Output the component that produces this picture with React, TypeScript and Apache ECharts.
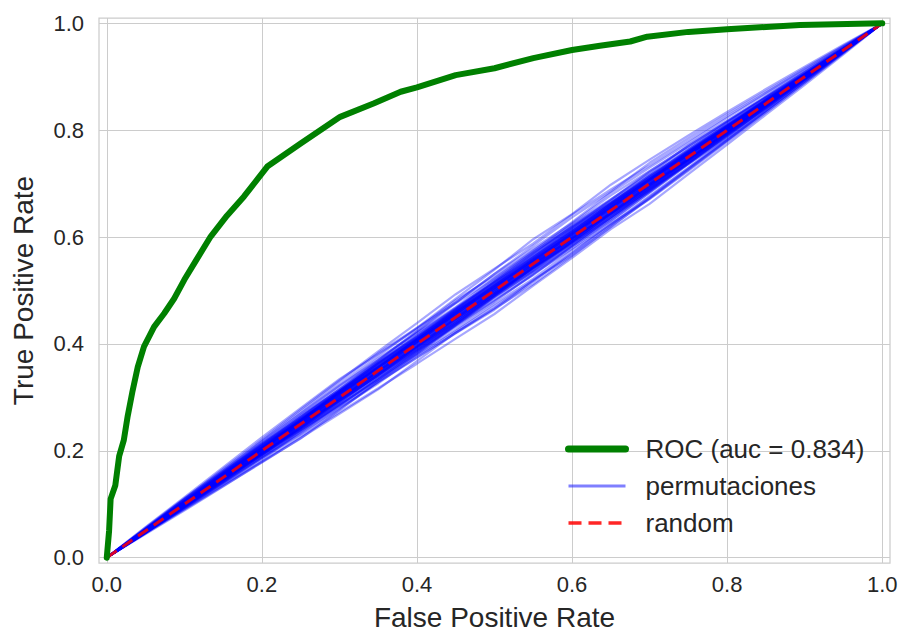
import React, { useEffect, useRef } from "react";
import * as echarts from "echarts";

const FONT = "'Liberation Sans', Arial, sans-serif";
const TEXT = "#262626";

const tickValues = [0, 0.2, 0.4, 0.6, 0.8, 1.0];

const rocFpr = [0, 0.003, 0.005, 0.011, 0.016, 0.022, 0.027, 0.033, 0.04, 0.048, 0.061, 0.074, 0.087, 0.1, 0.115, 0.134, 0.155, 0.177, 0.207, 0.25, 0.301, 0.344, 0.379, 0.4, 0.45, 0.5, 0.55, 0.6, 0.636, 0.675, 0.697, 0.75, 0.8, 0.894, 1.0];
const rocTpr = [0, 0.05, 0.11, 0.135, 0.19, 0.22, 0.265, 0.31, 0.357, 0.395, 0.432, 0.457, 0.485, 0.52, 0.556, 0.601, 0.64, 0.676, 0.732, 0.775, 0.825, 0.85, 0.872, 0.88, 0.903, 0.916, 0.935, 0.95, 0.958, 0.966, 0.975, 0.984, 0.989, 0.997, 1.0];

const permX = [0, 0.05, 0.1, 0.15, 0.2, 0.25, 0.3, 0.35, 0.4, 0.45, 0.5, 0.55, 0.6, 0.65, 0.7, 0.75, 0.8, 0.85, 0.9, 0.95, 1.0];
// deviation from the diagonal, in hundredths of TPR
const permDeviations = [
  [0, 0.3, 0.8, 1.2, 1.5, 1.9, 2.2, 2.0, 2.4, 2.8, 3.1, 2.9, 2.6, 2.8, 2.4, 2.0, 1.7, 1.3, 0.9, 0.5, 0],
  [0, -0.4, -0.7, -1.1, -1.3, -1.8, -2.0, -2.4, -2.2, -2.6, -2.9, -3.2, -3.0, -2.7, -2.5, -2.1, -1.8, -1.4, -0.9, -0.4, 0],
  [0, 0.2, 0.1, 0.5, 0.9, 0.7, 1.1, 1.4, 1.2, 0.9, 1.3, 1.6, 1.9, 1.5, 1.2, 1.4, 1.0, 0.7, 0.5, 0.2, 0],
  [0, -0.2, -0.5, -0.3, -0.6, -1.0, -0.8, -1.2, -1.5, -1.3, -1.0, -0.7, -1.1, -1.4, -1.2, -0.9, -1.1, -0.8, -0.5, -0.3, 0],
  [0, 0.5, 1.0, 1.6, 2.1, 2.7, 3.2, 3.6, 3.9, 4.3, 4.1, 3.8, 4.2, 3.9, 3.4, 3.0, 2.6, 2.0, 1.4, 0.7, 0],
  [0, -0.3, -0.9, -1.4, -2.0, -2.3, -2.8, -3.3, -3.7, -4.0, -4.4, -4.1, -3.9, -3.5, -3.8, -3.2, -2.7, -2.1, -1.5, -0.8, 0],
  [0, 0.1, 0.4, 0.2, 0.0, 0.3, 0.6, 0.4, 0.1, -0.2, 0.1, 0.4, 0.7, 0.5, 0.2, 0.5, 0.3, 0.1, 0.3, 0.1, 0],
  [0, -0.1, 0.2, 0.5, 0.3, 0.0, -0.3, -0.1, 0.3, 0.6, 0.4, 0.1, -0.2, -0.5, -0.3, 0.0, 0.2, 0.0, -0.2, -0.1, 0],
  [0, 0.4, 0.7, 0.9, 1.3, 1.6, 1.4, 1.8, 2.1, 1.9, 2.3, 2.5, 2.2, 1.9, 2.1, 1.7, 1.4, 1.1, 0.6, 0.3, 0],
  [0, -0.2, -0.6, -0.9, -0.7, -1.1, -1.5, -1.7, -1.4, -1.8, -2.1, -1.9, -2.2, -2.0, -1.7, -1.3, -1.5, -1.0, -0.6, -0.3, 0],
  [0, 0.6, 1.1, 1.4, 1.9, 2.4, 2.9, 3.3, 3.0, 3.5, 3.9, 4.6, 4.3, 4.8, 4.5, 4.0, 3.4, 2.7, 1.9, 1.0, 0],
  [0, -0.5, -1.0, -1.6, -2.2, -2.6, -3.1, -3.5, -3.2, -2.9, -3.4, -3.8, -3.5, -3.1, -2.8, -2.4, -2.0, -1.6, -1.1, -0.5, 0],
  [0, 0.2, 0.3, 0.7, 0.5, 0.8, 1.0, 0.8, 1.1, 1.4, 1.2, 0.9, 1.0, 1.3, 1.0, 0.7, 0.8, 0.5, 0.3, 0.1, 0],
  [0, -0.3, -0.2, -0.4, -0.8, -0.6, -0.3, -0.5, -0.9, -0.7, -0.4, -0.6, -0.3, -0.7, -0.9, -0.6, -0.4, -0.5, -0.3, -0.1, 0],
  [0, 0.3, 0.6, 1.0, 1.4, 1.1, 1.5, 1.9, 2.3, 2.6, 2.2, 2.0, 2.4, 2.1, 1.8, 2.2, 1.8, 1.3, 0.9, 0.4, 0],
  [0, -0.1, -0.4, -0.8, -1.2, -1.5, -1.3, -1.7, -2.0, -2.3, -2.5, -2.8, -2.4, -2.6, -2.3, -2.0, -1.6, -1.3, -0.8, -0.4, 0],
  [0, 0.1, 0.5, 0.8, 1.1, 0.9, 0.6, 0.9, 0.7, 1.0, 0.7, 0.4, 0.6, 0.9, 1.2, 0.8, 0.6, 0.7, 0.4, 0.2, 0],
  [0, -0.4, -0.3, -0.1, -0.4, -0.7, -1.0, -0.8, -0.5, -0.2, -0.5, -0.8, -1.2, -1.0, -0.7, -0.4, -0.6, -0.3, -0.1, 0.0, 0],
  [0, 0.7, 1.3, 1.9, 2.5, 3.0, 3.4, 3.1, 2.8, 3.2, 2.7, 2.4, 2.8, 3.3, 3.0, 2.6, 2.3, 1.8, 1.2, 0.6, 0],
  [0, -0.6, -1.2, -1.7, -2.1, -2.7, -2.4, -2.1, -2.5, -3.0, -3.6, -3.3, -2.9, -2.5, -2.9, -2.6, -2.2, -1.7, -1.2, -0.6, 0],
  [0, 0.2, 0.0, 0.3, 0.6, 0.4, 0.2, 0.5, 0.8, 0.5, 0.2, -0.1, 0.2, 0.4, 0.7, 0.4, 0.2, 0.4, 0.2, 0.0, 0],
  [0, -0.2, 0.1, -0.1, -0.3, -0.1, 0.2, 0.0, -0.4, -0.2, 0.1, -0.2, -0.5, -0.2, 0.0, -0.3, -0.1, -0.3, -0.1, -0.1, 0],
  [0, 0.4, 0.9, 1.3, 1.7, 2.0, 2.4, 2.7, 3.0, 2.7, 3.1, 3.4, 3.7, 3.5, 3.9, 3.5, 3.0, 2.3, 1.6, 0.8, 0],
  [0, -0.3, -0.7, -1.0, -1.4, -1.9, -2.3, -2.0, -1.7, -1.4, -1.7, -2.0, -1.6, -1.3, -1.0, -1.3, -1.0, -0.7, -0.4, -0.2, 0],
  [0, 0.1, 0.3, 0.6, 0.4, 0.7, 0.9, 1.2, 1.6, 1.4, 1.7, 1.5, 1.2, 0.9, 0.6, 0.9, 0.7, 0.4, 0.2, 0.1, 0],
  [0, -0.2, -0.4, -0.2, 0.1, -0.2, -0.5, -0.9, -1.1, -0.8, -0.6, -0.9, -1.3, -1.6, -1.4, -1.1, -0.8, -0.9, -0.6, -0.3, 0],
  [0, 0.5, 0.9, 1.1, 1.0, 1.4, 1.9, 2.3, 2.0, 1.6, 1.9, 2.2, 1.8, 1.4, 1.6, 1.3, 1.5, 1.1, 0.7, 0.3, 0],
  [0, -0.4, -0.8, -1.3, -1.7, -1.4, -1.8, -2.2, -2.6, -2.9, -3.3, -3.0, -3.4, -3.1, -2.7, -2.3, -1.9, -1.4, -0.9, -0.5, 0],
  [0, 0.3, 0.2, 0.0, 0.3, 0.6, 1.0, 1.3, 1.1, 1.4, 1.7, 2.0, 1.7, 2.0, 2.3, 2.0, 1.6, 1.2, 0.8, 0.4, 0],
  [0, -0.1, -0.3, -0.6, -0.4, -0.7, -0.5, -0.2, -0.6, -1.0, -0.8, -1.2, -0.9, -0.6, -0.4, -0.7, -0.5, -0.2, -0.3, -0.1, 0],
  [0, 0.1, 0.3, 0.4, 0.2, 0.5, 0.7, 0.5, 0.8, 0.6, 0.9, 0.7, 0.4, 0.6, 0.8, 0.5, 0.3, 0.4, 0.2, 0.1, 0],
  [0, -0.1, -0.2, 0.0, -0.3, -0.5, -0.3, -0.6, -0.4, -0.7, -0.5, -0.3, -0.6, -0.4, -0.2, -0.4, -0.3, -0.1, -0.2, 0.0, 0],
  [0, 0.2, 0.5, 0.7, 0.9, 0.6, 0.9, 1.1, 0.8, 1.0, 0.6, 0.8, 1.1, 0.9, 0.6, 0.9, 0.6, 0.5, 0.3, 0.1, 0],
  [0, -0.3, -0.5, -0.7, -0.5, -0.8, -1.0, -0.7, -0.9, -1.1, -0.8, -1.0, -0.7, -0.9, -1.1, -0.8, -0.6, -0.4, -0.3, -0.1, 0],
  [0, 0.0, 0.2, 0.1, 0.4, 0.2, 0.0, 0.2, 0.5, 0.3, 0.6, 0.3, 0.1, 0.3, 0.0, 0.2, 0.4, 0.2, 0.1, 0.1, 0],
  [0, -0.2, -0.1, -0.3, -0.1, 0.1, -0.1, -0.3, -0.1, 0.1, -0.2, 0.0, -0.3, -0.1, -0.3, -0.1, -0.2, 0.0, -0.1, 0.0, 0],
  [0, 0.3, 0.6, 0.9, 1.2, 1.4, 1.2, 1.5, 1.3, 1.6, 1.4, 1.1, 1.4, 1.2, 1.5, 1.1, 0.9, 0.8, 0.5, 0.2, 0],
  [0, -0.2, -0.5, -0.8, -1.1, -1.3, -1.6, -1.4, -1.2, -1.5, -1.3, -1.5, -1.8, -1.6, -1.3, -1.1, -0.9, -0.7, -0.4, -0.2, 0],
  [0, 0.1, 0.2, 0.5, 0.7, 1.0, 0.8, 0.6, 0.3, 0.5, 0.8, 1.0, 0.8, 0.5, 0.3, 0.6, 0.4, 0.2, 0.3, 0.1, 0],
  [0, -0.1, -0.3, -0.2, -0.5, -0.3, -0.6, -0.9, -0.7, -0.4, -0.2, -0.5, -0.8, -0.6, -0.5, -0.2, -0.4, -0.2, -0.1, 0.0, 0],
  [0, 0.2, 0.4, 0.3, 0.6, 0.8, 1.1, 1.3, 1.0, 1.2, 0.9, 1.2, 1.4, 1.1, 0.9, 1.1, 0.8, 0.6, 0.4, 0.2, 0],
  [0, -0.3, -0.2, -0.5, -0.7, -0.9, -0.6, -0.8, -1.1, -1.3, -1.1, -0.8, -0.9, -1.2, -1.0, -0.7, -0.8, -0.5, -0.3, -0.1, 0],
  [0, 0.1, 0.2, 0.4, 0.3, 0.5, 0.3, 0.6, 0.4, 0.2, 0.4, 0.6, 0.3, 0.5, 0.2, 0.4, 0.2, 0.3, 0.1, 0.0, 0],
  [0, -0.1, -0.3, -0.1, -0.4, -0.2, -0.5, -0.3, -0.6, -0.4, -0.7, -0.4, -0.2, -0.5, -0.3, -0.5, -0.2, -0.3, -0.1, -0.1, 0],
  [0, 0.2, 0.4, 0.6, 0.8, 1.0, 1.2, 1.0, 0.7, 0.9, 1.1, 1.3, 1.0, 1.2, 0.9, 0.7, 0.9, 0.6, 0.4, 0.2, 0],
  [0, -0.2, -0.4, -0.6, -0.8, -0.6, -0.9, -1.1, -1.3, -1.0, -1.2, -1.4, -1.1, -0.9, -1.2, -1.0, -0.7, -0.5, -0.4, -0.2, 0],
  [0, 0.0, 0.1, -0.1, 0.1, 0.3, 0.1, -0.1, 0.2, 0.0, -0.2, 0.1, 0.3, 0.1, -0.1, 0.1, 0.0, -0.1, 0.1, 0.0, 0],
  [0, 0.1, 0.3, 0.5, 0.4, 0.2, 0.4, 0.7, 0.9, 0.7, 0.5, 0.3, 0.5, 0.8, 0.6, 0.4, 0.6, 0.4, 0.2, 0.1, 0],
  [0, -0.2, -0.3, -0.5, -0.7, -0.5, -0.3, -0.1, -0.3, -0.6, -0.9, -0.7, -0.5, -0.3, -0.6, -0.4, -0.2, -0.4, -0.2, -0.1, 0],
  [0, 0.3, 0.5, 0.8, 1.0, 1.3, 1.5, 1.7, 1.4, 1.2, 1.5, 1.3, 1.6, 1.4, 1.2, 1.0, 1.2, 0.8, 0.5, 0.2, 0],
  [0, -0.3, -0.6, -0.9, -1.2, -1.0, -1.3, -1.5, -1.7, -1.5, -1.2, -1.4, -1.6, -1.3, -1.5, -1.2, -1.0, -0.8, -0.5, -0.2, 0],
  [0, 0.1, 0.0, 0.2, 0.4, 0.6, 0.4, 0.2, 0.4, 0.7, 0.5, 0.8, 0.6, 0.3, 0.5, 0.3, 0.5, 0.3, 0.2, 0.1, 0],
  [0, -0.1, 0.1, 0.3, 0.1, -0.1, -0.3, -0.5, -0.3, -0.1, 0.1, -0.1, -0.3, -0.5, -0.7, -0.5, -0.3, -0.2, -0.2, -0.1, 0],
  [0, 0.2, 0.3, 0.2, 0.5, 0.7, 0.9, 0.7, 1.0, 1.2, 0.9, 0.6, 0.8, 1.0, 0.8, 1.0, 0.7, 0.5, 0.3, 0.1, 0],
  [0, -0.2, -0.1, -0.4, -0.6, -0.4, -0.7, -0.9, -0.7, -1.0, -0.8, -0.6, -0.9, -0.7, -0.8, -0.6, -0.7, -0.4, -0.2, -0.1, 0],
  [0, 0.1, 0.3, 0.2, 0.0, 0.2, 0.5, 0.7, 0.5, 0.3, 0.0, 0.2, 0.0, 0.2, 0.4, 0.2, 0.0, 0.1, 0.0, 0.0, 0],
  [0, -0.1, -0.2, -0.4, -0.3, -0.1, 0.0, -0.2, 0.0, -0.3, -0.5, -0.3, -0.1, 0.1, -0.1, -0.3, -0.1, -0.2, 0.0, -0.1, 0],
  [0, 0.3, 0.6, 0.8, 0.6, 0.9, 1.2, 1.4, 1.6, 1.8, 1.6, 1.8, 2.0, 1.7, 1.4, 1.2, 1.0, 0.7, 0.5, 0.2, 0],
  [0, -0.3, -0.6, -0.5, -0.8, -1.1, -1.4, -1.7, -1.9, -1.6, -1.9, -2.1, -1.8, -2.0, -1.7, -1.4, -1.2, -0.9, -0.6, -0.3, 0],
  [0, 0.0, 0.2, 0.4, 0.6, 0.4, 0.6, 0.3, 0.5, 0.8, 1.0, 0.7, 0.9, 0.7, 0.9, 0.6, 0.4, 0.5, 0.3, 0.1, 0],
];

const randomX = [0, 1];
const randomY = [0, 1];

const labelROC = "ROC (auc = 0.834)";
const labelPerm = "permutaciones";
const labelRandom = "random";

export default function App() {
  const ref = useRef<HTMLDivElement>(null);

  useEffect(() => {
    if (!ref.current) return;
    const chart = echarts.init(ref.current, null, { renderer: "svg" });

    const permSeries = permDeviations.map((dev, i) => ({
      name: labelPerm,
      type: "line",
      id: "perm" + i,
      data: permX.map((x, j) => [x, x + dev[j] / 100]),
      symbol: "none",
      lineStyle: { color: "rgba(0,0,255,0.35)", width: 2.2 },
      itemStyle: { color: "rgba(0,0,255,0.5)" },
      z: 2,
    }));

    const axisCommon = {
      type: "value",
      min: -0.01,
      max: 1.01,
      axisLine: { show: false },
      axisTick: { show: false, customValues: tickValues },
      splitLine: { show: true, lineStyle: { color: "#cccccc", width: 1 } },
      nameLocation: "middle",
      nameTextStyle: { fontSize: 28, color: TEXT, fontFamily: FONT },
    };

    chart.setOption({
      animation: false,
      backgroundColor: "#ffffff",
      grid: {
        left: 99,
        top: 18,
        right: 9,
        bottom: 72,
        show: true,
        borderColor: "#cccccc",
        borderWidth: 1.25,
        containLabel: false,
        outerBoundsMode: "none",
      },
      xAxis: {
        ...axisCommon,
        name: "False Positive Rate",
        nameGap: 40,
        axisLabel: {
          customValues: tickValues,
          formatter: (v: number) => v.toFixed(1),
          fontSize: 22,
          color: TEXT,
          fontFamily: FONT,
          margin: 10,
        },
      },
      yAxis: {
        ...axisCommon,
        name: "True Positive Rate",
        nameGap: 62,
        axisLabel: {
          customValues: tickValues,
          formatter: (v: number) => v.toFixed(1),
          fontSize: 22,
          color: TEXT,
          fontFamily: FONT,
          margin: 15,
        },
      },
      legend: {
        orient: "vertical",
        left: 565,
        top: 436,
        padding: 0,
        itemWidth: 57,
        itemHeight: 14,
        itemGap: 11,
        textStyle: { fontSize: 26, color: TEXT, fontFamily: FONT, padding: [0, 0, 0, 15] },
        data: [
          {
            name: labelROC,
            itemStyle: { opacity: 0 },
            lineStyle: { color: "#008000", width: 7, cap: "round" },
          },
          {
            name: labelPerm,
            itemStyle: { opacity: 0 },
            lineStyle: { color: "rgba(0,0,255,0.5)", width: 3 },
          },
          {
            name: labelRandom,
            itemStyle: { opacity: 0 },
            lineStyle: { color: "#ff0000", width: 3.5, type: [13, 7] },
          },
        ],
      },
      series: [
        {
          name: labelROC,
          type: "line",
          data: rocFpr.map((x, i) => [x, rocTpr[i]]),
          symbol: "none",
          lineStyle: { color: "#008000", width: 6, cap: "round", join: "round" },
          itemStyle: { color: "#008000" },
          z: 4,
        },
        ...permSeries,
        {
          name: labelRandom,
          type: "line",
          data: randomX.map((x, i) => [x, randomY[i]]),
          symbol: "none",
          lineStyle: { color: "#ff0000", width: 3, type: [12, 7], opacity: 0.85 },
          itemStyle: { color: "#ff0000" },
          z: 3,
        },
      ],
    });

    return () => chart.dispose();
  }, []);

  return (
    <div
      ref={ref}
      style={{ position: "fixed", left: 0, top: 0, width: 899, height: 635, background: "#fff" }}
    />
  );
}
